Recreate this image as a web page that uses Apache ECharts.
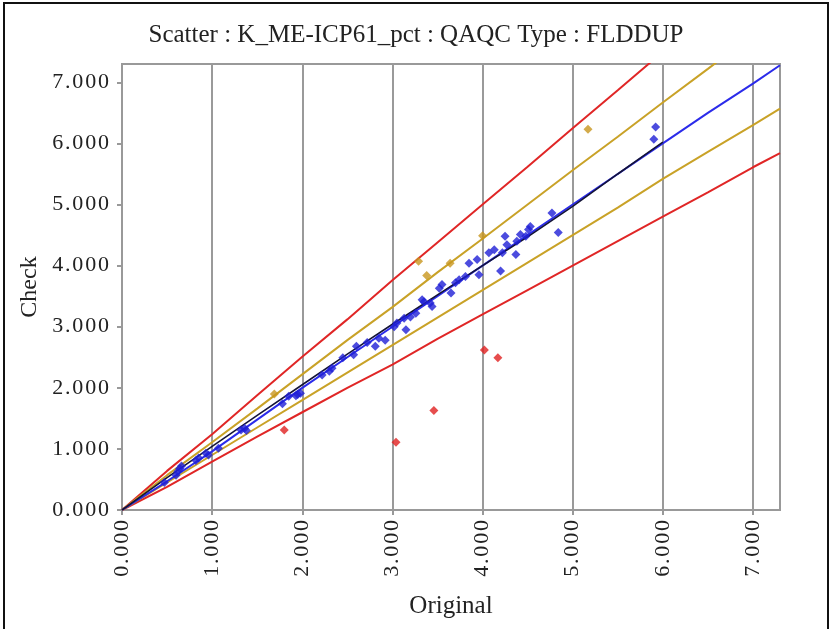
<!DOCTYPE html>
<html lang="en">
<head>
  <meta charset="UTF-8">
  <title>Scatter : K_ME-ICP61_pct</title>
  <script src="https://cdn.jsdelivr.net/npm/echarts@6/dist/echarts.min.js"></script>
  <style>
    body { margin: 0; background: #fff; }
    #chart { position: absolute; left: 0; top: 0; width: 832px; height: 629px; }
    #frame {
      position: absolute; left: 3px; top: 2px; width: 822px; height: 660px;
      border: 2px solid #111; pointer-events: none;
    }
  </style>
</head>
<body>
<div id="chart"></div>
<div id="frame"></div>
<script>
  // ticks
  var xTicks = [0, 1, 2, 3, 4, 5, 6, 7];
  var yTicks = [0, 1, 2, 3, 4, 5, 6, 7];

  // duplicate pairs within limits (blue)
  var okOrig  = [0.47,0.60,0.62,0.64,0.66,0.82,0.85,0.93,0.96,1.07,1.32,1.36,1.38,1.78,1.85,1.93,1.98,1.95,2.22,2.30,2.33,2.45,2.57,2.60,2.72,2.81,2.85,2.92,3.02,3.05,3.15,3.13,3.20,3.26,3.35,3.33,3.42,3.44,3.52,3.55,3.65,3.70,3.74,3.81,3.85,3.94,3.96,4.07,4.13,4.20,4.22,4.25,4.27,4.37,4.38,4.42,4.48,4.51,4.53,4.77,4.84,5.90,5.92];
  var okCheck = [0.45,0.57,0.63,0.68,0.72,0.81,0.85,0.93,0.90,1.01,1.31,1.34,1.30,1.74,1.86,1.87,1.91,1.89,2.21,2.27,2.32,2.49,2.54,2.68,2.74,2.68,2.81,2.78,3.00,3.06,2.95,3.14,3.16,3.22,3.41,3.44,3.39,3.33,3.63,3.69,3.55,3.72,3.77,3.82,4.04,4.10,3.85,4.21,4.26,3.91,4.21,4.48,4.34,4.18,4.40,4.51,4.48,4.59,4.64,4.86,4.54,6.07,6.27];

  // warning pairs (gold)
  var warnOrig  = [1.69, 3.29, 3.38, 3.64, 4.00, 5.17];
  var warnCheck = [1.90, 4.07, 3.84, 4.04, 4.49, 6.23];

  // failed pairs (red)
  var failOrig  = [1.80, 3.04, 3.46, 4.02, 4.17];
  var failCheck = [1.31, 1.11, 1.63, 2.62, 2.49];

  // limit lines
  var lineX   = [0, 0.5, 1, 1.5, 2, 2.5, 3, 3.5, 4, 4.5, 5, 5.5, 6, 6.5, 7, 7.3];
  var equalY  = [0, 0.47, 0.96, 1.48, 2.0, 2.5, 3.0, 3.5, 4.0, 4.5, 5.0, 5.5, 6.0, 6.5, 6.98, 7.28];
  var upper10 = [0, 0.57, 1.11, 1.66, 2.22, 2.78, 3.32, 3.89, 4.44, 5.0, 5.56, 6.11, 6.67, 7.22, 7.78, 8.1];
  var lower10 = [0, 0.45, 0.90, 1.35, 1.80, 2.25, 2.70, 3.15, 3.60, 4.05, 4.50, 4.95, 5.42, 5.86, 6.30, 6.57];
  var upper20 = [0, 0.64, 1.24, 1.88, 2.51, 3.12, 3.76, 4.38, 5.0, 5.62, 6.25, 6.87, 7.5, 8.1, 8.7, 9.1];
  var lower20 = [0, 0.38, 0.79, 1.20, 1.60, 2.0, 2.38, 2.80, 3.20, 3.60, 4.0, 4.40, 4.80, 5.20, 5.61, 5.84];

  // fitted trend through the pairs
  var fitX = [0, 0.5, 1, 1.5, 2, 2.5, 3, 3.5, 4, 4.5, 5, 5.5, 6];
  var fitY = [0, 0.53, 1.04, 1.55, 2.05, 2.55, 3.04, 3.52, 4.0, 4.47, 4.97, 5.5, 6.02];

  function pairs(xs, ys) {
    return xs.map(function (x, i) { return [x, ys[i]]; });
  }

  var serif = '"Liberation Serif", "DejaVu Serif", serif';

  // tick labels in the original are loosely spaced
  function tickText(v) {
    return v.toFixed(3).split('').join('\u200A');
  }

  function lineSeries(ys, color) {
    return {
      type: 'line', data: pairs(lineX, ys), symbol: 'none', clip: true,
      lineStyle: { color: color, width: 2 }, z: 2
    };
  }

  function pointSeries(xs, ys, color) {
    return {
      type: 'scatter', data: pairs(xs, ys), symbol: 'diamond', symbolSize: 9,
      itemStyle: { color: color }, z: 5
    };
  }

  var chart = echarts.init(document.getElementById('chart'));

  var option = {
    animation: false,
    title: {
      text: 'Scatter : K_ME-ICP61_pct : QAQC Type : FLDDUP',
      left: 'center', top: 18,
      textStyle: { fontFamily: serif, fontSize: 25, fontWeight: 'normal', color: '#222' }
    },
    grid: {
      left: 122, right: 52, top: 64, bottom: 119,
      show: true, borderColor: '#999', borderWidth: 2, backgroundColor: '#fff'
    },
    xAxis: {
      type: 'value', min: 0, max: 7.3,
      name: 'Original', nameLocation: 'middle', nameGap: 84,
      nameTextStyle: { fontFamily: serif, fontSize: 25, color: '#222' },
      axisLine: { show: true, lineStyle: { color: '#999', width: 2 } },
      axisTick: { show: true, length: 5, customValues: xTicks, lineStyle: { color: '#999', width: 2 } },
      axisLabel: {
        customValues: xTicks, rotate: 90, margin: 10,
        fontFamily: serif, fontSize: 22, color: '#222',
        formatter: tickText
      },
      splitLine: { show: true, lineStyle: { color: '#9a9a9a', width: 2 } }
    },
    yAxis: {
      type: 'value', min: 0, max: 7.3,
      name: 'Check', nameLocation: 'middle', nameGap: 72,
      nameTextStyle: { fontFamily: serif, fontSize: 24, color: '#222' },
      axisLine: { show: true, lineStyle: { color: '#999', width: 2 } },
      axisTick: { show: true, length: 5, customValues: yTicks, lineStyle: { color: '#999', width: 2 } },
      axisLabel: {
        customValues: yTicks, margin: 13,
        fontFamily: serif, fontSize: 22, color: '#222',
        formatter: tickText
      },
      splitLine: { show: false }
    },
    series: [
      lineSeries(upper20, '#e02626'),
      lineSeries(lower20, '#e02626'),
      lineSeries(upper10, '#c9a227'),
      lineSeries(lower10, '#c9a227'),
      lineSeries(equalY, '#2b2bea'),
      {
        type: 'line', data: pairs(fitX, fitY), symbol: 'none',
        lineStyle: { color: '#141438', width: 1.6 }, z: 3
      },
      pointSeries(okOrig, okCheck, '#1f1fd6'),
      pointSeries(warnOrig, warnCheck, '#c8961e'),
      pointSeries(failOrig, failCheck, '#e02020')
    ]
  };

  chart.setOption(option);
</script>
</body>
</html>
